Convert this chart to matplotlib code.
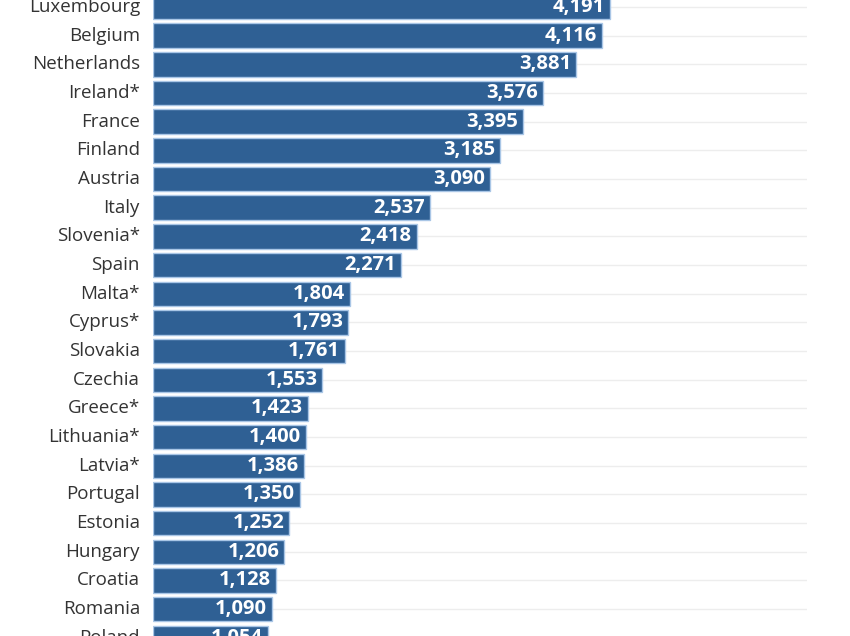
import matplotlib
matplotlib.use("Agg")
import matplotlib.pyplot as plt

countries = ["Luxembourg", "Belgium", "Netherlands", "Ireland*", "France", "Finland",
             "Austria", "Italy", "Slovenia*", "Spain", "Malta*", "Cyprus*", "Slovakia",
             "Czechia", "Greece*", "Lithuania*", "Latvia*", "Portugal", "Estonia",
             "Hungary", "Croatia", "Romania", "Poland"]
values = [4191, 4116, 3881, 3576, 3395, 3185, 3090, 2537, 2418, 2271, 1804, 1793,
          1761, 1553, 1423, 1400, 1386, 1350, 1252, 1206, 1128, 1090, 1054]

plt.rcParams["font.family"] = ["Open Sans", "DejaVu Sans"]

fig = plt.figure(figsize=(8.5, 6.36), dpi=100)
ax = fig.add_axes([153 / 850, 0, (807 - 153) / 850, 1])

ypos = list(range(len(countries)))
for y in ypos:
    ax.axhline(y, color="#ededed", lw=1, zorder=0)

ax.barh(ypos, values, height=0.85, color="#2f6094", edgecolor="#a9c6e6",
        linewidth=1.0, zorder=2)

for y, v in zip(ypos, values):
    ax.text(v - 45, y, f"{v:,}", ha="right", va="center", color="white",
            fontsize=14.5, fontweight="bold", zorder=3)
    ax.text(-120, y, countries[y], ha="right", va="center", color="#333333",
            fontsize=13.5, zorder=3)

ax.set_xlim(0, 6000)
ax.set_ylim(21.94, -0.244)
ax.axis("off")

fig.savefig("out.png", dpi=100)
